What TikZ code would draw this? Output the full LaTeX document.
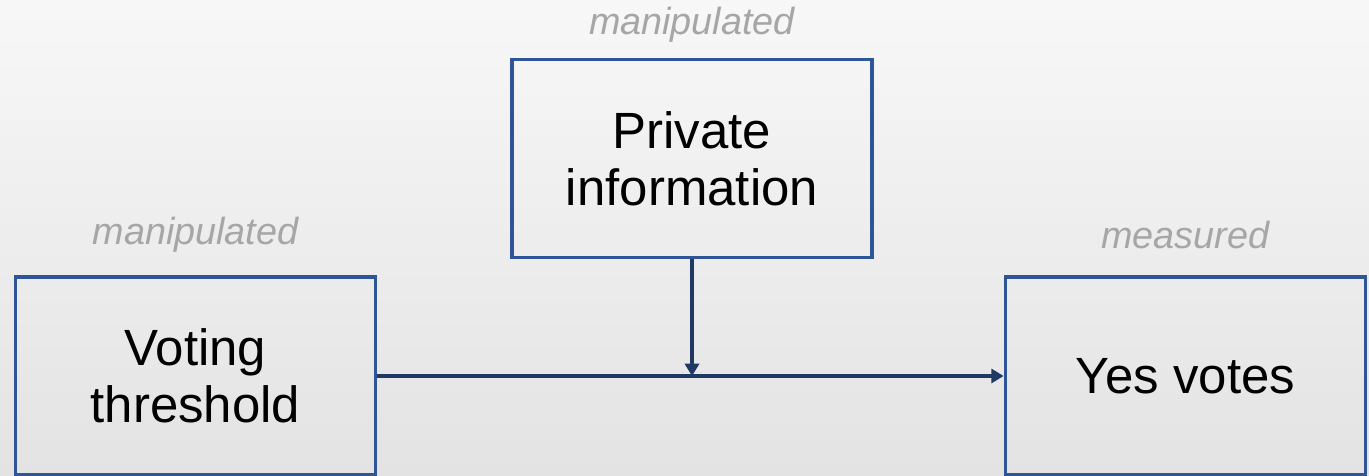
\documentclass[tikz,border=0pt]{standalone}
\usepackage{fontspec}
\setmainfont{Liberation Sans}
\usetikzlibrary{arrows.meta}
\definecolor{boxblue}{HTML}{2F5597}
\definecolor{navy}{HTML}{203864}
\definecolor{labelgray}{HTML}{A6A6A6}

\begin{document}
\begin{tikzpicture}[x=0.02cm, y=-0.02cm, box/.style = {shape=rectangle, draw=boxblue, line width=2.2pt, align=center, minimum width=7.2cm, minimum height=3.96cm, font=\fontsize{29}{32.4}\selectfont}, note/.style = {text=labelgray, font=\fontsize{21.5}{24}\selectfont\itshape}, link/.style = {draw=navy, line width=2.2pt, -{Triangle[length=7pt, width=8pt]}}]
	\shade[top color=white!97!black, bottom color=white!89!black] (0,0) rectangle (1369,476);
	\useasboundingbox (0,0) rectangle (1369,476);
	\node[box] (info) at (692,158.5) {Private\\information};
	\node[box] (threshold) at (195.5,376) {Voting\\threshold};
	\node[box] (votes) at (1185.5,376) {Yes votes};
	\node[note] (infonote) at (692,25) {manipulated};
	\node[note] (thresholdnote) at (195.5,235) {manipulated};
	\node[note] (votesnote) at (1185.5,235) {measured};
	\coordinate (join) at (threshold.east -| info.south);
	\draw[link] (threshold.east) -- (votes.west);
	\draw[link] (info.south) -- (join);
\end{tikzpicture}
\end{document}
